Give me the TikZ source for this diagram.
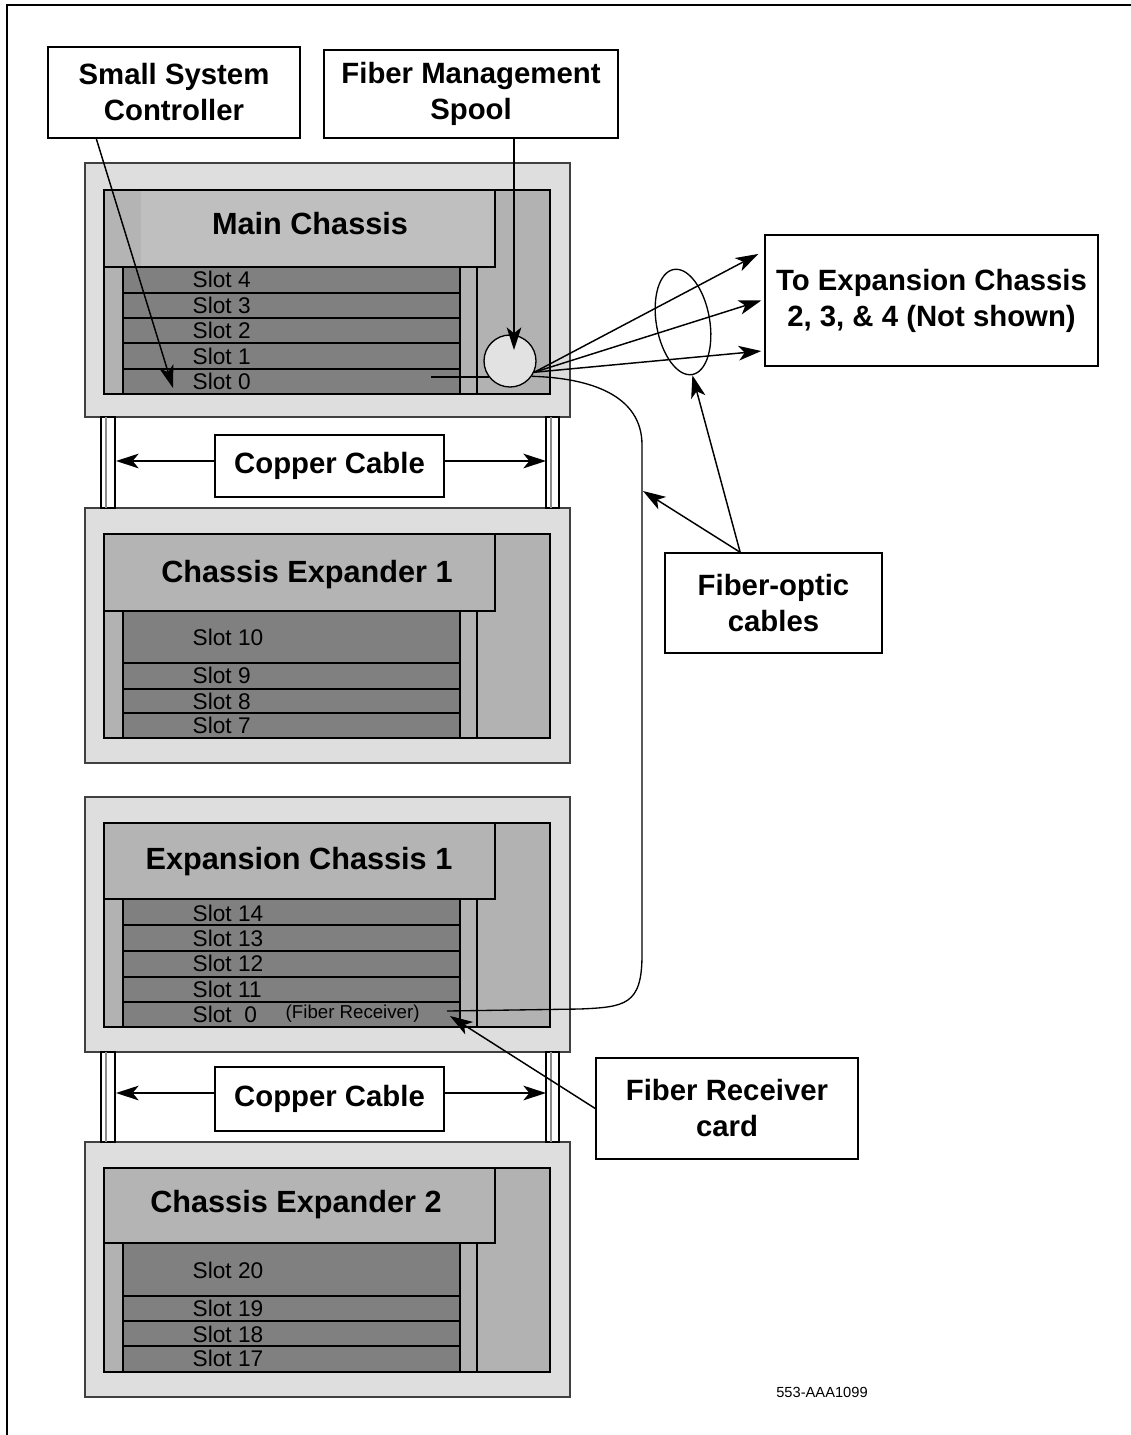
\documentclass[tikz,border=0pt]{standalone}
\usepackage{fontspec}
\setmainfont{Liberation Sans}
\usetikzlibrary{arrows.meta}
\usetikzlibrary{shapes}

\definecolor{caseGray}{RGB}{222,222,222}
\definecolor{panelGray}{RGB}{178,178,178}
\definecolor{headGray}{RGB}{180,180,180}
\definecolor{headLight}{RGB}{191,191,191}
\definecolor{slotGray}{RGB}{128,128,128}
\definecolor{spoolGray}{RGB}{226,226,226}

\tikzset{
  callout/.style={draw, line width=1.1pt, fill=white, align=center, inner sep=0pt, font=\bfseries\fontsize{22}{27}\selectfont},
  title/.style={inner sep=0.75pt, font=\bfseries\fontsize{23}{27}\selectfont},
  slotlbl/.style={anchor=west, inner sep=0.75pt, font=\fontsize{17}{20}\selectfont},
  pointer/.style={line width=1.1pt, -{Stealth[length=17pt,width=11pt,inset=4.5pt]}},
}

\begin{document}
\begin{tikzpicture}[x=0.75pt,y=0.75pt,yscale=-1,xscale=1,line width=1.1pt]
\useasboundingbox (0,0) rectangle (1131,1435);

%Straight Lines (frame)
\draw [line width=2.2pt] (7,1435) -- (7,5) -- (1131,5) ;

%Shape: Rectangle (main chassis)
\draw [draw=black!75, fill=caseGray] (85,163) rectangle (570,417) ;
\draw [fill=panelGray] (104,190) rectangle (550,394) ;
\draw [fill=headGray] (104,190) rectangle (495,267) ;
\fill [headLight] (141,191) rectangle (494,266) ;
\draw [fill=slotGray] (123,267) rectangle (460,394) ;
\draw (477,267) -- (477,394) ;
\draw (123,293) -- (460,293) ;
\draw (123,318) -- (460,318) ;
\draw (123,343) -- (460,343) ;
\draw (123,369) -- (460,369) ;

%Shape: Rectangle (chassis expander 1)
\draw [draw=black!75, fill=caseGray] (85,508) rectangle (570,763) ;
\draw [fill=panelGray] (104,534) rectangle (550,738) ;
\draw [fill=headGray] (104,534) rectangle (495,611) ;
\draw [fill=slotGray] (123,611) rectangle (460,738) ;
\draw (477,611) -- (477,738) ;
\draw (123,663) -- (460,663) ;
\draw (123,689) -- (460,689) ;
\draw (123,713) -- (460,713) ;

%Shape: Rectangle (expansion chassis 1)
\draw [draw=black!75, fill=caseGray] (85,797) rectangle (570,1052) ;
\draw [fill=panelGray] (104,823) rectangle (550,1027) ;
\draw [fill=headGray] (104,823) rectangle (495,899) ;
\draw [fill=slotGray] (123,899) rectangle (460,1027) ;
\draw (477,899) -- (477,1027) ;
\draw (123,925) -- (460,925) ;
\draw (123,951) -- (460,951) ;
\draw (123,977) -- (460,977) ;
\draw (123,1002) -- (460,1002) ;

%Shape: Rectangle (chassis expander 2)
\draw [draw=black!75, fill=caseGray] (85,1142) rectangle (570,1397) ;
\draw [fill=panelGray] (104,1168) rectangle (550,1372) ;
\draw [fill=headGray] (104,1168) rectangle (495,1243) ;
\draw [fill=slotGray] (123,1243) rectangle (460,1372) ;
\draw (477,1243) -- (477,1372) ;
\draw (123,1296) -- (460,1296) ;
\draw (123,1321) -- (460,1321) ;
\draw (123,1346) -- (460,1346) ;

%Shape: Rectangle (cable rails)
\draw [fill=white] (101,417) rectangle (115,508) ;
\draw [black!45, line width=0.8pt] (106,417) -- (106,508) ;
\draw [fill=white] (546,417) rectangle (559,508) ;
\draw [black!45, line width=0.8pt] (551,417) -- (551,508) ;
\draw [fill=white] (101,1052) rectangle (115,1142) ;
\draw [black!45, line width=0.8pt] (106,1052) -- (106,1142) ;
\draw [fill=white] (546,1052) rectangle (559,1142) ;
\draw [black!45, line width=0.8pt] (551,1052) -- (551,1142) ;

% Text Node
\draw (310,224) node [title] (mainTitle) {Main Chassis};
\draw (307,575) node [title] (expOneTitle) {Chassis Expander 1};
\draw (299,862) node [title] (extOneTitle) {Expansion Chassis 1};
\draw (296,1205) node [title] (expTwoTitle) {Chassis Expander 2};

% Text Node
\draw (191,279) node [slotlbl] (slotM4) {Slot 4};
\draw (191,305) node [slotlbl] (slotM3) {Slot 3};
\draw (191,330) node [slotlbl] (slotM2) {Slot 2};
\draw (191,356) node [slotlbl] (slotM1) {Slot 1};
\draw (191,381) node [slotlbl] (slotM0) {Slot 0};
\draw (191,637) node [slotlbl] (slotTen) {Slot 10};
\draw (191,675) node [slotlbl] (slotNine) {Slot 9};
\draw (191,701) node [slotlbl] (slotEight) {Slot 8};
\draw (191,725) node [slotlbl] (slotSeven) {Slot 7};
\draw (191,913) node [slotlbl] (slotFourteen) {Slot 14};
\draw (191,938) node [slotlbl] (slotThirteen) {Slot 13};
\draw (191,963) node [slotlbl] (slotTwelve) {Slot 12};
\draw (191,989) node [slotlbl] (slotEleven) {Slot 11};
\draw (191,1014) node [slotlbl] (slotRx) {Slot~~0};
\draw (284,1014) node [anchor=west, inner sep=0.75pt, font=\fontsize{14}{16}\selectfont] (rxNote) {(Fiber Receiver)};
\draw (191,1270) node [slotlbl] (slotTwenty) {Slot 20};
\draw (191,1308) node [slotlbl] (slotNineteen) {Slot 19};
\draw (191,1334) node [slotlbl] (slotEighteen) {Slot 18};
\draw (191,1358) node [slotlbl] (slotSeventeen) {Slot 17};

%Straight Lines (slot 0 to spool)
\coordinate (slotZeroPort) at (431,377);
\draw [line width=1pt] (slotZeroPort) -- (489,377) ;
%Shape: Circle
\draw (510,361) node [circle, draw, fill=spoolGray, line width=1pt, minimum size=39pt, inner sep=0pt] (spool) {};
%Shape: Ellipse
\draw (683,322) node [ellipse, draw, line width=1pt, rotate=10, minimum width=40pt, minimum height=80pt, inner sep=0pt] (bundle) {};

% Text Node
\draw (174,92.5) node [callout, minimum width=189pt, minimum height=68pt] (ssc) {Small System\\Controller};
\draw (471,94) node [callout, minimum width=220.5pt, minimum height=66pt] (fms) {Fiber Management\\Spool};
\draw (931.5,300.5) node [callout, minimum width=249.75pt, minimum height=98.25pt] (toexp) {To Expansion Chassis\\2, 3, \& 4 (Not shown)};
\draw (773.5,603) node [callout, minimum width=162.75pt, minimum height=75pt] (fibopt) {Fiber-optic\\cables};
\draw (727,1108.5) node [callout, minimum width=196.5pt, minimum height=75.75pt] (fibrec) {Fiber Receiver\\card};
\draw (329.5,466) node [callout, minimum width=171.75pt, minimum height=46.5pt] (copperA) {Copper Cable};
\draw (329.5,1099) node [callout, minimum width=171.75pt, minimum height=48pt] (copperB) {Copper Cable};
\draw (822,1392) node [inner sep=0.75pt, font=\fontsize{11}{13}\selectfont] (figId) {553-AAA1099};

%Curve Lines (fiber to expansion chassis 1)
\coordinate (rxPort) at (447,1011);
\draw [line width=1pt] (spool.-35) .. controls (590,378) and (642,395) .. (642,445) -- (642,955) .. controls (642,1005) and (625,1007) .. (580,1009) -- (rxPort) ;

%Straight Lines (fan out)
\draw [pointer] (spool.-25) -- ([yshift=-34.9pt,xshift=-4.5pt]toexp.west) ;
\draw [pointer] (spool.-25) -- ([xshift=-2.25pt]toexp.west) ;
\draw [pointer] (spool.-25) -- ([yshift=37.9pt,xshift=-2.25pt]toexp.west) ;

%Straight Lines (callouts)
\coordinate (sscTip) at (173,388);
\coordinate (spoolTip) at (514,350);
\coordinate (cableMark) at (643,491);
\coordinate (rxTip) at (450,1016);
\draw [pointer] ([xshift=36.75pt]ssc.south west) -- (sscTip) ;
\draw [pointer] ([xshift=32.25pt]fms.south) -- (spoolTip) ;
\draw [pointer] ([xshift=-25pt]fibopt.north) -- (bundle.south) ;
\draw [pointer] ([xshift=-25pt]fibopt.north) -- (cableMark) ;
\draw [pointer] (fibrec.west) -- (rxTip) ;

%Straight Lines (copper cables)
\coordinate (cuOneL) at (116,461);
\coordinate (cuOneR) at (546,461);
\coordinate (cuTwoL) at (116,1093);
\coordinate (cuTwoR) at (546,1093);
\draw [pointer] ([yshift=-3.75pt]copperA.west) -- (cuOneL) ;
\draw [pointer] ([yshift=-3.75pt]copperA.east) -- (cuOneR) ;
\draw [pointer] ([yshift=-4.5pt]copperB.west) -- (cuTwoL) ;
\draw [pointer] ([yshift=-4.5pt]copperB.east) -- (cuTwoR) ;

\end{tikzpicture}
\end{document}
